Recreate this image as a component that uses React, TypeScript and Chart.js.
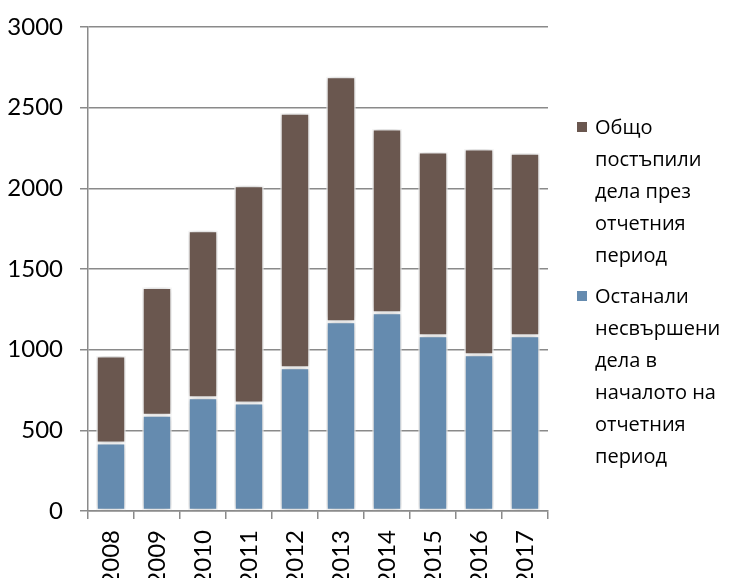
import React, { useEffect, useRef } from 'react';
import { Chart, registerables } from 'chart.js';

Chart.register(...registerables);

const years = ['2008', '2009', '2010', '2011', '2012', '2013', '2014', '2015', '2016', '2017'];
const pendingAtStart = [421, 593, 702, 669, 888, 1173, 1229, 1087, 969, 1087];
const incoming = [540, 793, 1035, 1347, 1577, 1519, 1139, 1138, 1275, 1130];
const yTicks = [0, 500, 1000, 1500, 2000, 2500, 3000];

const incomingLabel = 'Общо постъпили дела през отчетния период';
const pendingLabel = 'Останали несвършени дела в началото на отчетния период';
const incomingLines = ['Общо', 'постъпили', 'дела през', 'отчетния', 'период'];
const pendingLines = ['Останали', 'несвършени', 'дела в', 'началото на', 'отчетния', 'период'];

const BROWN = '#6A574F';
const BLUE = '#658BAF';
const GRID = '#8a8a8a';

const shadowPlugin = {
  id: 'barShadow',
  beforeDatasetsDraw(chart: any) {
    const c = chart.ctx;
    c.save();
    c.shadowColor = 'rgba(0,0,0,0.28)';
    c.shadowBlur = 7;
    c.shadowOffsetX = 0;
    c.shadowOffsetY = 0;
  },
  afterDatasetsDraw(chart: any) {
    chart.ctx.restore();
  },
};

export default function App() {
  const ref = useRef<HTMLCanvasElement>(null);

  useEffect(() => {
    if (!ref.current) return;
    const chart = new Chart(ref.current, {
      type: 'bar',
      data: {
        labels: years,
        datasets: [
          {
            label: pendingLabel,
            data: pendingAtStart,
            backgroundColor: BLUE,
            borderColor: '#ffffff',
            borderWidth: 1.5,
            borderSkipped: false,
            barPercentage: 0.64,
            categoryPercentage: 1,
          },
          {
            label: incomingLabel,
            data: incoming,
            backgroundColor: BROWN,
            borderColor: '#ffffff',
            borderWidth: 1.5,
            borderSkipped: false,
            barPercentage: 0.64,
            categoryPercentage: 1,
          },
        ],
      },
      options: {
        animation: false,
        responsive: false,
        devicePixelRatio: 1,
        layout: { padding: { left: 0, right: 189, top: 27, bottom: 0 } },
        plugins: {
          legend: { display: false },
          tooltip: { enabled: false },
        },
        scales: {
          x: {
            stacked: true,
            afterFit(scale: any) {
              scale.height = 67;
              scale.paddingLeft = 0;
              scale.paddingRight = 0;
            },
            grid: {
              offset: true,
              drawOnChartArea: false,
              drawTicks: true,
              tickLength: 8,
              color: GRID,
              lineWidth: 1.5,
            },
            border: { color: GRID, width: 1.5 },
            ticks: {
              minRotation: 90,
              maxRotation: 90,
              padding: 11,
              color: '#000',
              font: { family: 'Lato', size: 24 },
            },
          },
          y: {
            stacked: true,
            min: 0,
            max: 3000,
            afterBuildTicks(scale: any) {
              scale.ticks = yTicks.map((v) => ({ value: v }));
            },
            afterFit(scale: any) {
              scale.width = 88;
              scale.paddingTop = 0;
              scale.paddingBottom = 0;
            },
            grid: {
              color: GRID,
              lineWidth: 1.5,
              tickLength: 8,
              drawTicks: true,
            },
            border: { color: GRID, width: 1.5 },
            ticks: {
              padding: 17,
              color: '#000',
              font: { family: 'Lato', size: 24 },
              callback: (v: any) => String(v),
            },
          },
        },
      },
      plugins: [shadowPlugin],
    });
    return () => chart.destroy();
  }, []);

  const legendItem = (color: string, lines: string[], top: number) => (
    <div style={{ position: 'absolute', left: 577, top, display: 'flex', alignItems: 'flex-start' }}>
      <div style={{ width: 10, height: 10, background: color, marginTop: 11, marginRight: 8 }} />
      <div style={{ fontFamily: '"Open Sans", sans-serif', fontSize: 20, lineHeight: '32px', color: '#000' }}>
        {lines.map((l, i) => (
          <div key={i} style={{ whiteSpace: 'nowrap' }}>{l}</div>
        ))}
      </div>
    </div>
  );

  return (
    <div style={{ position: 'fixed', left: 0, top: 0, width: 737, height: 578, background: '#fff' }}>
      <canvas ref={ref} width={737} height={578} style={{ position: 'absolute', left: 0, top: 0 }} />
      {legendItem(BROWN, incomingLines, 111)}
      {legendItem(BLUE, pendingLines, 280)}
    </div>
  );
}
